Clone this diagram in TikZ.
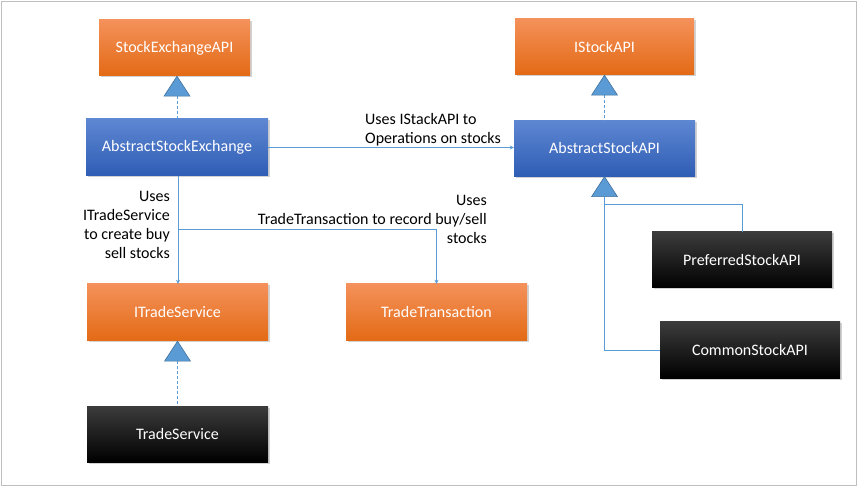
\documentclass[tikz,border=0pt]{standalone}
\usepackage{fontspec}
\setmainfont{Carlito}
\usetikzlibrary{arrows.meta,shadows}
\definecolor{lblue}{HTML}{5B9BD5}
\definecolor{tribord}{HTML}{41719C}
\definecolor{orT}{HTML}{F4915A}
\definecolor{orB}{HTML}{E36A15}
\definecolor{blT}{HTML}{5E87D2}
\definecolor{blB}{HTML}{2F5DB5}
\definecolor{bkT}{HTML}{3C3C3C}
\definecolor{bkB}{HTML}{000000}
\tikzset{
  box/.style={minimum width=181pt,minimum height=56pt,inner sep=0pt,text=white,
    font=\fontsize{16}{19}\selectfont,
    drop shadow={shadow xshift=1.5pt,shadow yshift=-1.5pt,fill=black!35,opacity=0.5}},
  orbox/.style={box,top color=orT,bottom color=orB},
  blbox/.style={box,top color=blT,bottom color=blB},
  bkbox/.style={box,top color=bkT,bottom color=bkB},
  conn/.style={draw=lblue,line width=0.9pt},
  dep/.style={conn,-{Stealth[length=4pt,width=4pt]}},
  real/.style={conn,dashed,dash pattern=on 3pt off 2pt},
  tri/.style={fill=lblue,draw=tribord,line width=0.6pt},
  lbl/.style={font=\fontsize{16}{19}\selectfont,inner sep=0pt},
}
\begin{document}
\begin{tikzpicture}[x=1pt,y=-1pt]
\useasboundingbox (0,0) rectangle (857,486);
\draw[black!25,line width=0.8pt] (1,1) rectangle (856,485);
% nodes
\node[orbox,minimum width=151pt] (sea) at (174.5,48) {StockExchangeAPI};
\node[orbox,minimum width=179pt] (isa) at (604.5,47) {IStockAPI};
\node[blbox,minimum width=182pt,minimum height=57pt] (ase) at (177,147.5) {AbstractStockExchange};
\node[blbox] (asa) at (604.5,148.5) {AbstractStockAPI};
\node[orbox,minimum height=57pt] (its) at (177.5,312.5) {ITradeService};
\node[orbox,minimum height=57pt] (tt) at (436.5,312.5) {TradeTransaction};
\node[bkbox] (ts) at (177.5,434) {TradeService};
\node[bkbox,minimum width=180pt] (psa) at (742,260) {PreferredStockAPI};
\node[bkbox,minimum width=180pt] (csa) at (750,350) {CommonStockAPI};
% triangles (realization / inheritance)
\coordinate (t1) at (sea.south -| ase.north);
\coordinate (t2) at (isa.south);
\coordinate (t3) at (its.south);
\coordinate (t4) at (asa.south);
\draw[real] ([yshift=-20pt]t1) -- (t1 |- ase.north);
\draw[real] ([yshift=-20pt]t2) -- (t2 |- asa.north);
\draw[real] ([yshift=-20pt]t3) -- (t3 |- ts.north);
\coordinate (j1) at ([yshift=-28pt]t4);
\draw[conn] ([yshift=-20pt]t4) -- (t4 |- csa.west) -- (csa.west);
\draw[conn] (j1) -- (j1 -| psa.north) -- (psa.north);
\foreach \t in {t1,t2,t3,t4}
  \draw[tri] (\t) -- ++(-13,20) -- ++(26,0) -- cycle;
% dependencies
\draw[dep] (ase.east) -- (ase.east -| asa.west);
\node[lbl,anchor=south west,align=left] (l1) at (365,146) {Uses IStackAPI to\\Operations on stocks};
\coordinate (j2) at (178,229);
\draw[dep] (ase.south -| j2) -- (its.north -| j2);
\draw[dep] (j2) -- (j2 -| tt.north) -- (tt.north);
\node[lbl,align=right,anchor=north east] (l2) at (170,191) {Uses\\ITradeService\\to create buy\\sell stocks};
\node[lbl,align=right,anchor=north east] (l3) at (487,195) {Uses\\TradeTransaction to record buy/sell\\stocks};
\end{tikzpicture}
\end{document}
